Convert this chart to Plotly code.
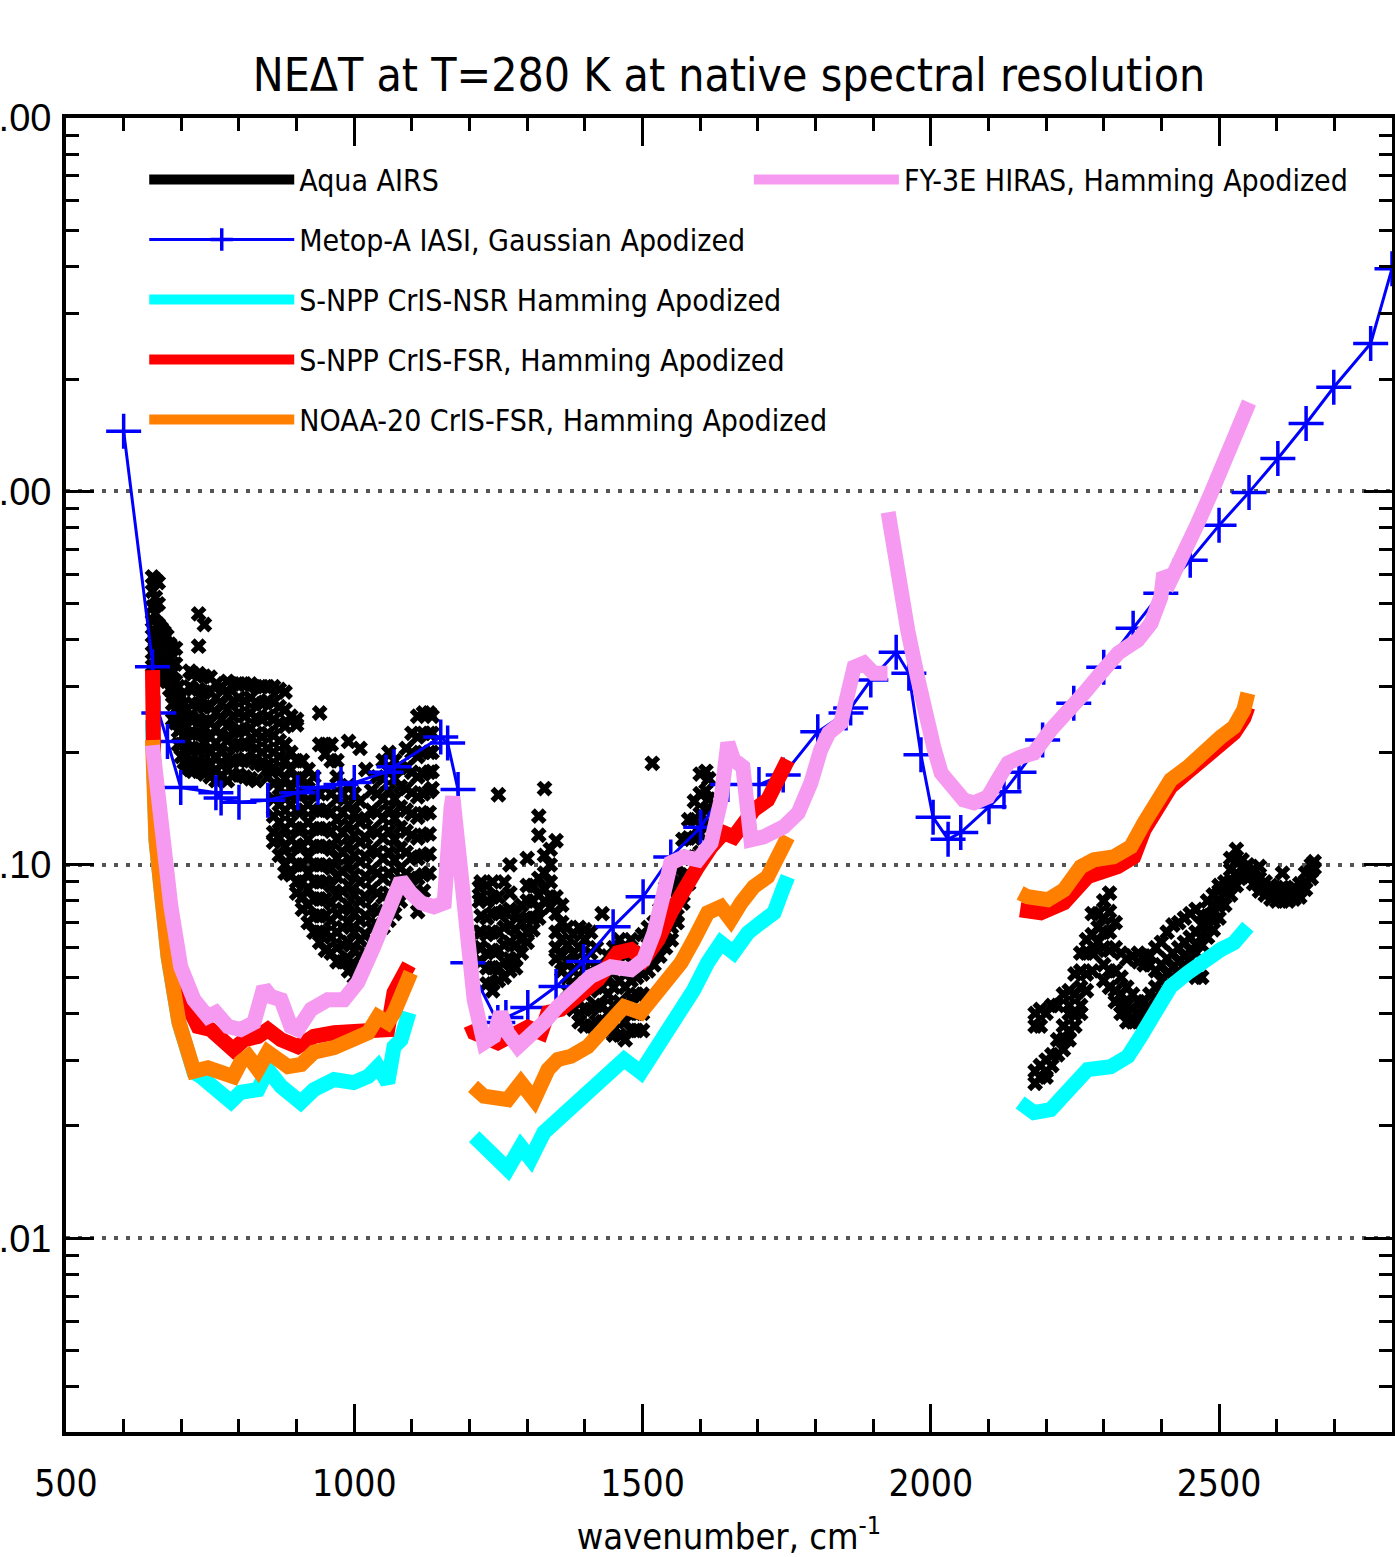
import plotly.graph_objects as go

# ---------------- data ----------------
# Aqua AIRS (scatter of channels), grouped by wavenumber column
airs_lw_wn = [650, 655, 660, 665, 670, 675, 680, 685, 690, 695, 700, 705, 710, 715, 720, 730, 740, 750,
              760, 770, 780, 790, 800, 810, 820, 830, 840, 850, 860, 870, 880, 890, 900, 910, 920, 930,
              940, 950, 960, 970, 980, 990, 1000, 1010, 1020, 1030, 1040, 1050, 1060, 1070, 1080, 1090,
              1100, 1110, 1120, 1130, 1135]
airs_lw_vals = [
    [0.59, 0.54, 0.49, 0.45, 0.41, 0.37, 0.34],
    [0.58, 0.52, 0.47, 0.42, 0.38, 0.34, 0.32],
    [0.57, 0.50, 0.44, 0.39, 0.35, 0.32],
    [0.43, 0.39, 0.355, 0.32],
    [0.42, 0.38, 0.345, 0.315],
    [0.41, 0.37, 0.34, 0.31],
    [0.39, 0.355, 0.32, 0.295],
    [0.38, 0.345, 0.315, 0.29, 0.27, 0.245],
    [0.38, 0.345, 0.31, 0.285, 0.26, 0.24],
    [0.30, 0.275, 0.25, 0.228, 0.21],
    [0.282, 0.255, 0.232, 0.21, 0.195],
    [0.27, 0.245, 0.222, 0.203, 0.188],
    [0.26, 0.235, 0.215, 0.196, 0.183],
    [0.33, 0.30, 0.25, 0.225, 0.205, 0.19, 0.18],
    [0.325, 0.295, 0.27, 0.245, 0.225, 0.205, 0.188, 0.178],
    [0.47, 0.385, 0.325, 0.295, 0.27, 0.245, 0.225, 0.205, 0.19, 0.178],
    [0.44, 0.32, 0.29, 0.265, 0.242, 0.222, 0.203, 0.187, 0.175],
    [0.318, 0.29, 0.265, 0.24, 0.22, 0.2, 0.185, 0.172],
    [0.305, 0.28, 0.255, 0.232, 0.212, 0.195, 0.18, 0.168],
    [0.30, 0.27, 0.245, 0.22, 0.2, 0.185, 0.172],
    [0.31, 0.285, 0.26, 0.235, 0.215, 0.195, 0.18, 0.168],
    [0.305, 0.275, 0.25, 0.228, 0.208, 0.19, 0.174],
    [0.305, 0.28, 0.255, 0.23, 0.21, 0.19, 0.174],
    [0.305, 0.275, 0.25, 0.228, 0.21, 0.192, 0.172],
    [0.305, 0.28, 0.255, 0.232, 0.21, 0.19, 0.17],
    [0.30, 0.272, 0.248, 0.225, 0.205, 0.187, 0.168],
    [0.30, 0.27, 0.245, 0.22, 0.2, 0.185],
    [0.30, 0.275, 0.25, 0.225, 0.205, 0.185, 0.172],
    [0.30, 0.272, 0.245, 0.222, 0.2, 0.182, 0.165, 0.15, 0.135, 0.122, 0.115],
    [0.295, 0.265, 0.24, 0.215, 0.195, 0.178, 0.16, 0.145, 0.13, 0.118, 0.106],
    [0.29, 0.26, 0.235, 0.21, 0.19, 0.17, 0.155, 0.14, 0.125, 0.112, 0.1, 0.095],
    [0.25, 0.2, 0.18, 0.16, 0.145, 0.13, 0.117, 0.105, 0.094],
    [0.245, 0.237, 0.19, 0.17, 0.155, 0.14, 0.125, 0.113, 0.1, 0.09, 0.084],
    [0.19, 0.17, 0.155, 0.14, 0.125, 0.112, 0.1, 0.09, 0.082, 0.076],
    [0.18, 0.16, 0.145, 0.13, 0.117, 0.105, 0.095, 0.086, 0.078, 0.07],
    [0.172, 0.155, 0.14, 0.125, 0.112, 0.1, 0.09, 0.081, 0.073, 0.066],
    [0.255, 0.21, 0.155, 0.14, 0.125, 0.112, 0.1, 0.09, 0.081, 0.073, 0.066, 0.062],
    [0.21, 0.198, 0.14, 0.125, 0.112, 0.1, 0.09, 0.081, 0.073, 0.066, 0.059],
    [0.21, 0.19, 0.155, 0.138, 0.123, 0.11, 0.098, 0.088, 0.079, 0.071, 0.064, 0.058],
    [0.19, 0.172, 0.15, 0.132, 0.117, 0.104, 0.093, 0.083, 0.074, 0.066, 0.06, 0.055],
    [0.155, 0.138, 0.122, 0.108, 0.096, 0.085, 0.076, 0.068, 0.061, 0.055],
    [0.214, 0.163, 0.145, 0.128, 0.113, 0.1, 0.088, 0.078, 0.07, 0.062, 0.056, 0.052],
    [0.155, 0.137, 0.12, 0.106, 0.094, 0.083, 0.074, 0.066, 0.059, 0.053, 0.05],
    [0.205, 0.148, 0.13, 0.115, 0.102, 0.09, 0.08, 0.071, 0.063, 0.057, 0.052],
    [0.18, 0.133, 0.118, 0.105, 0.093, 0.082, 0.073, 0.065, 0.058, 0.056],
    [0.158, 0.14, 0.124, 0.11, 0.097, 0.086, 0.076, 0.068, 0.062],
    [0.172, 0.155, 0.138, 0.122, 0.108, 0.095, 0.084, 0.075, 0.069],
    [0.19, 0.17, 0.15, 0.133, 0.118, 0.104, 0.092, 0.082, 0.073, 0.068],
    [0.2, 0.178, 0.158, 0.14, 0.123, 0.108, 0.095, 0.084, 0.075, 0.071],
    [0.19, 0.17, 0.15, 0.133, 0.117, 0.103, 0.091, 0.081, 0.074],
    [0.182, 0.162, 0.143, 0.126, 0.111, 0.098, 0.087, 0.08],
    [0.205, 0.182, 0.16, 0.14, 0.123, 0.108, 0.095, 0.086],
    [0.225, 0.2, 0.177, 0.156, 0.137, 0.12, 0.105, 0.092, 0.088],
    [0.25, 0.22, 0.195, 0.172, 0.152, 0.134, 0.118, 0.104, 0.092, 0.082, 0.075],
    [0.255, 0.225, 0.2, 0.175, 0.155, 0.137, 0.12, 0.106, 0.094, 0.085],
    [0.255, 0.225, 0.2, 0.177, 0.157, 0.138, 0.121, 0.107, 0.095],
    [0.25, 0.225, 0.2, 0.178, 0.16],
]
airs_mw_wn = [1217, 1220, 1230, 1240, 1250, 1260, 1270, 1280, 1290, 1300, 1310, 1320, 1330, 1340, 1350,
              1360, 1370, 1380, 1390, 1400, 1410, 1420, 1430, 1440, 1450, 1460, 1470, 1480, 1490, 1500,
              1510, 1517, 1520, 1530, 1540, 1550, 1560, 1570, 1580, 1590, 1600, 1610, 1615]
airs_mw_vals = [
    [0.087, 0.08, 0.066, 0.06, 0.055],
    [0.09, 0.082, 0.073, 0.066, 0.06, 0.055],
    [0.088, 0.08, 0.072, 0.065, 0.058, 0.053, 0.048],
    [0.09, 0.082, 0.074, 0.066, 0.059, 0.053, 0.048, 0.046],
    [0.154, 0.082, 0.074, 0.066, 0.059, 0.053, 0.049],
    [0.09, 0.075, 0.068, 0.061, 0.055, 0.05],
    [0.1, 0.084, 0.076, 0.069, 0.062, 0.056, 0.052],
    [0.074, 0.067, 0.061, 0.056, 0.053],
    [0.078, 0.07, 0.063, 0.058],
    [0.104, 0.088, 0.08, 0.072, 0.066, 0.062],
    [0.088, 0.08, 0.072, 0.067],
    [0.135, 0.12, 0.092, 0.083, 0.076, 0.072],
    [0.16, 0.106, 0.095, 0.086, 0.08],
    [0.11, 0.1, 0.09, 0.082, 0.077],
    [0.116, 0.082, 0.074, 0.066, 0.06, 0.056],
    [0.078, 0.07, 0.063, 0.057, 0.052],
    [0.068, 0.061, 0.055, 0.05, 0.046],
    [0.065, 0.058, 0.052, 0.047, 0.043, 0.041],
    [0.068, 0.06, 0.054, 0.048, 0.043, 0.04, 0.038],
    [0.067, 0.063, 0.056, 0.05, 0.045, 0.041, 0.037],
    [0.066, 0.058, 0.052, 0.046, 0.041, 0.037],
    [0.06, 0.053, 0.047, 0.042, 0.038, 0.036],
    [0.074, 0.053, 0.047, 0.042, 0.038, 0.036],
    [0.057, 0.05, 0.045, 0.04, 0.036],
    [0.06, 0.053, 0.047, 0.042, 0.038, 0.035],
    [0.063, 0.055, 0.049, 0.043, 0.039, 0.035],
    [0.06, 0.053, 0.047, 0.042, 0.038, 0.034],
    [0.063, 0.055, 0.049, 0.044, 0.04, 0.036],
    [0.057, 0.05, 0.045, 0.04, 0.036],
    [0.065, 0.058, 0.051, 0.045, 0.04, 0.036],
    [0.068, 0.061, 0.056, 0.052],
    [0.187],
    [0.07, 0.063, 0.057, 0.054],
    [0.076, 0.068, 0.061, 0.057],
    [0.087, 0.078, 0.07, 0.063, 0.06],
    [0.095, 0.085, 0.076, 0.068, 0.063],
    [0.1, 0.09, 0.081, 0.073, 0.07],
    [0.117, 0.104, 0.093, 0.083, 0.079],
    [0.132, 0.118, 0.105, 0.094, 0.089],
    [0.148, 0.132, 0.118, 0.105, 0.099],
    [0.175, 0.155, 0.137, 0.121, 0.108],
    [0.178, 0.158, 0.14, 0.128],
    [0.17, 0.15, 0.142],
]
airs_sw_wn = [2181, 2190, 2200, 2210, 2220, 2230, 2240, 2250, 2260, 2270, 2280, 2290, 2300, 2310, 2320,
              2330, 2340, 2350, 2360, 2370, 2380, 2390, 2400, 2410, 2420, 2430, 2440, 2450, 2460, 2470,
              2480, 2490, 2500, 2510, 2520, 2530, 2540, 2550, 2560, 2570, 2580, 2590, 2600, 2610, 2620,
              2630, 2640, 2650, 2660, 2665]
airs_sw_vals = [
    [0.04, 0.037, 0.028, 0.026],
    [0.041, 0.037, 0.029, 0.027],
    [0.04, 0.03, 0.028, 0.027],
    [0.042, 0.031, 0.029],
    [0.042, 0.034, 0.031],
    [0.045, 0.037, 0.034, 0.032],
    [0.046, 0.042, 0.04, 0.036, 0.034],
    [0.051, 0.045, 0.04, 0.037],
    [0.058, 0.052, 0.047, 0.042, 0.04],
    [0.063, 0.058, 0.051, 0.046],
    [0.074, 0.065, 0.058, 0.052],
    [0.074, 0.068, 0.062, 0.059],
    [0.08, 0.072, 0.066, 0.06, 0.054, 0.049],
    [0.084, 0.075, 0.066, 0.059, 0.052, 0.047],
    [0.07, 0.06, 0.052, 0.046, 0.043],
    [0.058, 0.05, 0.045, 0.042, 0.04],
    [0.056, 0.047, 0.042, 0.04, 0.038],
    [0.057, 0.045, 0.041, 0.039, 0.038],
    [0.058, 0.055, 0.043, 0.04, 0.038],
    [0.057, 0.054, 0.043, 0.04, 0.038],
    [0.057, 0.054, 0.045, 0.041, 0.039],
    [0.06, 0.052, 0.047, 0.044],
    [0.062, 0.054, 0.049, 0.046],
    [0.066, 0.056, 0.051, 0.048],
    [0.069, 0.058, 0.053, 0.05],
    [0.07, 0.06, 0.055, 0.052],
    [0.072, 0.062, 0.057, 0.054],
    [0.074, 0.064, 0.059, 0.056],
    [0.076, 0.066, 0.061, 0.058, 0.05],
    [0.073, 0.069, 0.064, 0.061, 0.05],
    [0.08, 0.073, 0.068, 0.064],
    [0.083, 0.078, 0.072, 0.067],
    [0.088, 0.085, 0.078, 0.072],
    [0.09, 0.084, 0.078],
    [0.104, 0.097, 0.09, 0.083],
    [0.11, 0.102, 0.095, 0.088],
    [0.103, 0.098, 0.093],
    [0.1, 0.096, 0.092],
    [0.097, 0.093, 0.089],
    [0.099, 0.092, 0.088, 0.085],
    [0.09, 0.086, 0.083],
    [0.088, 0.084, 0.081],
    [0.087, 0.083, 0.08],
    [0.095, 0.087, 0.083, 0.08],
    [0.086, 0.083, 0.08],
    [0.087, 0.083, 0.081],
    [0.089, 0.085, 0.082],
    [0.095, 0.09, 0.086],
    [0.1, 0.096, 0.092],
    [0.102, 0.098],
]

# Metop-A IASI (line with + markers)
iasi_wn = [600, 650, 661, 676, 699, 760, 769, 800, 850, 902, 937, 977, 1000, 1055, 1069, 1150, 1162,
           1180, 1197, 1249, 1263, 1301, 1350, 1398, 1449, 1501, 1549, 1601, 1648, 1702, 1744, 1804,
           1853, 1861, 1896, 1940, 1962, 1983, 2004, 2030, 2052, 2101, 2127, 2153, 2194, 2248, 2300,
           2351, 2399, 2450, 2500, 2552, 2602, 2651, 2699, 2763, 2800]
iasi_val = [1.45, 0.339, 0.255, 0.214, 0.161, 0.156, 0.151, 0.147, 0.149, 0.156, 0.161, 0.164, 0.166,
            0.177, 0.183, 0.22, 0.212, 0.159, 0.0547, 0.0378, 0.039, 0.0415, 0.0472, 0.0551, 0.0683,
            0.0821, 0.105, 0.126, 0.164, 0.164, 0.174, 0.227, 0.255, 0.263, 0.3125, 0.371, 0.326,
            0.197, 0.134, 0.117, 0.122, 0.143, 0.157, 0.177, 0.216, 0.271, 0.338, 0.43, 0.534, 0.654,
            0.811, 0.994, 1.225, 1.52, 1.9, 2.49, 3.95]

# S-NPP CrIS-NSR (cyan), three bands
nsr_lw_wn = [650, 656, 668, 677, 696, 713, 722, 734, 757, 786, 803, 833, 850, 873, 907, 930, 965, 999,
             1024, 1041, 1058, 1069, 1081, 1095]
nsr_lw_val = [0.244, 0.1167, 0.0772, 0.0568, 0.0378, 0.0307, 0.0278, 0.0271, 0.0255, 0.0232, 0.0246,
              0.025, 0.0283, 0.0255, 0.0231, 0.025, 0.0266, 0.0261, 0.0271, 0.0288, 0.0261, 0.0326,
              0.034, 0.0402]
nsr_mw_wn = [1208, 1225, 1249, 1266, 1289, 1306, 1329, 1353, 1376, 1398, 1423, 1445, 1468, 1497, 1520,
             1544, 1567, 1589, 1613, 1636, 1658, 1683, 1705, 1728, 1745, 1752]
nsr_mw_val = [0.0187, 0.0176, 0.0166, 0.0153, 0.0176, 0.0163, 0.0192, 0.0208, 0.0221, 0.0235, 0.0255,
              0.0278, 0.0301, 0.0278, 0.0315, 0.0355, 0.0402, 0.0463, 0.0547, 0.0618, 0.0582, 0.0658,
              0.07, 0.0744, 0.0874, 0.0929]
nsr_sw_wn = [2155, 2179, 2208, 2238, 2272, 2312, 2342, 2364, 2387, 2416, 2446, 2474, 2503, 2526, 2550]
nsr_sw_val = [0.0231, 0.0217, 0.0221, 0.025, 0.0283, 0.0288, 0.0307, 0.0347, 0.0402, 0.0472, 0.0514,
              0.0557, 0.0593, 0.0618, 0.0683]

# S-NPP CrIS-FSR (red)
snpp_lw_wn = [650, 652, 661, 677, 694, 712, 729, 751, 774, 790, 809, 833, 850, 873, 902, 930, 965, 999,
              1034, 1058, 1069, 1086, 1095]
snpp_lw_val = [0.332, 0.191, 0.1167, 0.0772, 0.0514, 0.0417, 0.0369, 0.0362, 0.034, 0.032, 0.034,
               0.0347, 0.0362, 0.034, 0.0326, 0.0347, 0.0355, 0.0355, 0.0355, 0.0362, 0.0455, 0.0514,
               0.054]
snpp_mw_wn = [1202, 1208, 1249, 1277, 1301, 1324, 1336, 1358, 1388, 1423, 1457, 1480, 1502, 1527, 1549,
              1572, 1596, 1619, 1641, 1658, 1676, 1693, 1717, 1735, 1752]
snpp_mw_val = [0.0373, 0.0355, 0.0334, 0.0347, 0.0367, 0.0355, 0.0402, 0.041, 0.0444, 0.0493, 0.0582,
               0.0593, 0.0557, 0.063, 0.0744, 0.0874, 0.0988, 0.1117, 0.1218, 0.1188, 0.1295, 0.1403,
               0.1492, 0.1719, 0.191]
snpp_sw_wn = [2155, 2191, 2231, 2272, 2324, 2352, 2370, 2394, 2416, 2446, 2474, 2503, 2526, 2543, 2550]
snpp_sw_val = [0.0758, 0.0744, 0.0791, 0.0929, 0.0988, 0.105, 0.124, 0.14, 0.1617, 0.1773, 0.1945,
               0.212, 0.2254, 0.247, 0.2646]

# NOAA-20 CrIS-FSR (orange)
n20_lw_wn = [650, 656, 668, 677, 696, 713, 722, 746, 769, 790, 803, 816, 833, 850, 868, 885, 908, 930,
             965, 999, 1024, 1041, 1058, 1069, 1086, 1098]
n20_lw_val = [0.216, 0.1167, 0.0772, 0.0568, 0.0378, 0.0307, 0.028, 0.0286, 0.028, 0.0271, 0.0296,
              0.0307, 0.0283, 0.0315, 0.0301, 0.0288, 0.0292, 0.0315, 0.0324, 0.034, 0.0355, 0.0392,
              0.0378, 0.0402, 0.0455, 0.0514]
n20_mw_wn = [1206, 1225, 1266, 1289, 1312, 1336, 1353, 1376, 1405, 1423, 1445, 1468, 1497, 1520, 1544,
             1567, 1589, 1613, 1636, 1653, 1671, 1693, 1717, 1735, 1752]
n20_mw_val = [0.0255, 0.024, 0.0235, 0.0261, 0.0235, 0.0283, 0.0301, 0.0307, 0.0326, 0.0347, 0.0378,
              0.0417, 0.0402, 0.0444, 0.0502, 0.0547, 0.063, 0.0744, 0.0772, 0.0713, 0.0791, 0.0874,
              0.0929, 0.1077, 0.1188]
n20_sw_wn = [2155, 2168, 2203, 2231, 2260, 2283, 2317, 2347, 2370, 2394, 2416, 2446, 2474, 2503, 2526,
             2543, 2550]
n20_sw_val = [0.0841, 0.0821, 0.0806, 0.0857, 0.0988, 0.1031, 0.105, 0.1117, 0.1295, 0.1465, 0.1687,
              0.1828, 0.203, 0.22, 0.234, 0.26, 0.288]

# FY-3E HIRAS (violet), two segments
hiras_a_wn = [650, 665, 682, 699, 722, 746, 760, 781, 803, 826, 843, 855, 873, 890, 902, 925, 954, 982,
              1006, 1034, 1058, 1081, 1098, 1116, 1138, 1156, 1168, 1171, 1190, 1208, 1225, 1242, 1254,
              1266, 1284, 1306, 1329, 1353, 1381, 1410, 1445, 1480, 1502, 1520, 1537, 1549, 1572, 1596,
              1619, 1636, 1648, 1658, 1674, 1688, 1710, 1745, 1770, 1792, 1809, 1823, 1844, 1867, 1884,
              1901, 1925]
hiras_a_val = [0.209, 0.1167, 0.0772, 0.0533, 0.0435, 0.0392, 0.0402, 0.0369, 0.0362, 0.0378, 0.0469,
               0.0444, 0.0435, 0.0369, 0.0362, 0.041, 0.0435, 0.0435, 0.0484, 0.0604, 0.0758, 0.0912,
               0.0841, 0.0791, 0.0772, 0.0791, 0.1429, 0.152, 0.0806, 0.0435, 0.0334, 0.0347, 0.0402,
               0.0355, 0.0326, 0.0347, 0.0378, 0.0417, 0.0455, 0.0502, 0.0533, 0.0524, 0.0557, 0.0658,
               0.0841, 0.1012, 0.105, 0.1031, 0.1145, 0.149, 0.212, 0.191, 0.183, 0.1167, 0.1188, 0.1264,
               0.1377, 0.1656, 0.203, 0.2254, 0.2398, 0.338, 0.3467, 0.326, 0.326]
hiras_b_wn = [1926, 1943, 1960, 1978, 1995, 2005, 2018, 2035, 2057, 2075, 2099, 2116, 2134, 2156, 2179,
              2208, 2238, 2266, 2295, 2325, 2359, 2382, 2399, 2404, 2416, 2434, 2446, 2463, 2486, 2503,
              2520, 2538, 2552]
hiras_b_val = [0.879, 0.578, 0.425, 0.3125, 0.2296, 0.2068, 0.1762, 0.1616, 0.1492, 0.1465, 0.152,
               0.1687, 0.1874, 0.1945, 0.1993, 0.2296, 0.255, 0.2884, 0.326, 0.369, 0.3998, 0.4436,
               0.5206, 0.603, 0.578, 0.654, 0.7084, 0.821, 0.988, 1.138, 1.311, 1.548, 1.73]

# ---------------- figure ----------------
NARROW = "DejaVu Sans Condensed, Liberation Sans Narrow, DejaVu Sans, sans-serif"
LINE_W = 15


def columns(wns, vals):
    xs, ys = [], []
    for w, col in zip(wns, vals):
        for v in col:
            xs.append(w)
            ys.append(v)
    return xs, ys


def join(*segs):
    xs, ys = [], []
    for i in range(0, len(segs), 2):
        if xs:
            xs.append(None)
            ys.append(None)
        xs += list(segs[i])
        ys += list(segs[i + 1])
    return xs, ys


ax1, ay1 = columns(airs_lw_wn, airs_lw_vals)
ax2, ay2 = columns(airs_mw_wn, airs_mw_vals)
ax3, ay3 = columns(airs_sw_wn, airs_sw_vals)
airs_x = ax1 + ax2 + ax3
airs_y = ay1 + ay2 + ay3

fig = go.Figure()

fig.add_trace(go.Scatter(x=airs_x, y=airs_y, mode="markers", showlegend=False, legendgroup="airs",
                         marker=dict(symbol="x", size=14, color="black", line=dict(width=0)),
                         hoverinfo="skip"))
fig.add_trace(go.Scatter(x=[None], y=[None], mode="lines", name="Aqua AIRS", legendgroup="airs",
                         line=dict(color="black", width=LINE_W)))

fig.add_trace(go.Scatter(x=iasi_wn, y=iasi_val, mode="lines+markers", legendgroup="iasi",
                         name="Metop-A IASI, Gaussian Apodized",
                         line=dict(color="#0000FF", width=3),
                         marker=dict(symbol="cross-thin", size=25, color="#0000FF",
                                     line=dict(color="#0000FF", width=3.5))))

x, y = join(nsr_lw_wn, nsr_lw_val, nsr_mw_wn, nsr_mw_val, nsr_sw_wn, nsr_sw_val)
fig.add_trace(go.Scatter(x=x, y=y, mode="lines", name="S-NPP CrIS-NSR Hamming Apodized",
                         legendgroup="nsr", line=dict(color="#00FFFF", width=LINE_W)))
x, y = join(snpp_lw_wn, snpp_lw_val, snpp_mw_wn, snpp_mw_val, snpp_sw_wn, snpp_sw_val)
fig.add_trace(go.Scatter(x=x, y=y, mode="lines", name="S-NPP CrIS-FSR, Hamming Apodized",
                         legendgroup="snpp", line=dict(color="#FF0000", width=LINE_W)))
x, y = join(n20_lw_wn, n20_lw_val, n20_mw_wn, n20_mw_val, n20_sw_wn, n20_sw_val)
fig.add_trace(go.Scatter(x=x, y=y, mode="lines", name="NOAA-20 CrIS-FSR, Hamming Apodized",
                         legendgroup="n20", line=dict(color="#FF8000", width=LINE_W)))
x, y = join(hiras_a_wn, hiras_a_val, hiras_b_wn, hiras_b_val)
fig.add_trace(go.Scatter(x=x, y=y, mode="lines", name="FY-3E HIRAS, Hamming Apodized",
                         legend="legend2", line=dict(color="#F59AF0", width=LINE_W)))

axis_common = dict(showline=True, linecolor="black", linewidth=4, mirror="allticks",
                   ticks="inside", tickcolor="black", tickwidth=3, ticklen=28,
                   zeroline=False, automargin=False)

fig.update_xaxes(range=[500, 2800], tick0=500, dtick=500, showgrid=False,
                 tickfont=dict(family=NARROW, size=37, color="black"),
                 ticklabelstandoff=16,
                 minor=dict(dtick=100, ticks="inside", ticklen=13, tickwidth=3, tickcolor="black",
                            showgrid=False),
                 title=dict(text="wavenumber, cm<sup>-1</sup>", standoff=25,
                            font=dict(family=NARROW, size=36, color="black")),
                 **axis_common)
fig.update_yaxes(type="log", range=[-2.519, 1.0], dtick=1, tickformat=".2f",
                 showgrid=True, gridcolor="#555555", gridwidth=4, griddash="4px,8px",
                 tickfont=dict(family="Liberation Sans, Arial, sans-serif", size=38, color="black"),
                 ticklabelstandoff=3,
                 minor=dict(dtick="D1", ticks="inside", ticklen=13, tickwidth=3, tickcolor="black",
                            showgrid=False),
                 **axis_common)

fig.update_layout(
    template="none",
    width=1395, height=1557,
    margin=dict(l=66, r=3, t=118, b=125, autoexpand=False),
    paper_bgcolor="white", plot_bgcolor="white",
    title=dict(text="NE\u0394T at T=280 K at native spectral resolution",
               x=0.5, xref="paper", xanchor="center",
               y=1 - 75 / 1557, yref="container", yanchor="middle",
               font=dict(family=NARROW, size=46, color="black")),
    legend=dict(x=0.059, y=0.973, xanchor="left", yanchor="top", bgcolor="rgba(0,0,0,0)",
                borderwidth=0, traceorder="grouped", tracegroupgap=18, itemwidth=145,
                font=dict(family=NARROW, size=30, color="black")),
    legend2=dict(x=0.515, y=0.973, xanchor="left", yanchor="top", bgcolor="rgba(0,0,0,0)",
                 borderwidth=0, itemwidth=145,
                 font=dict(family=NARROW, size=30, color="black")),
    showlegend=True,
)

fig.write_html("out.html")
